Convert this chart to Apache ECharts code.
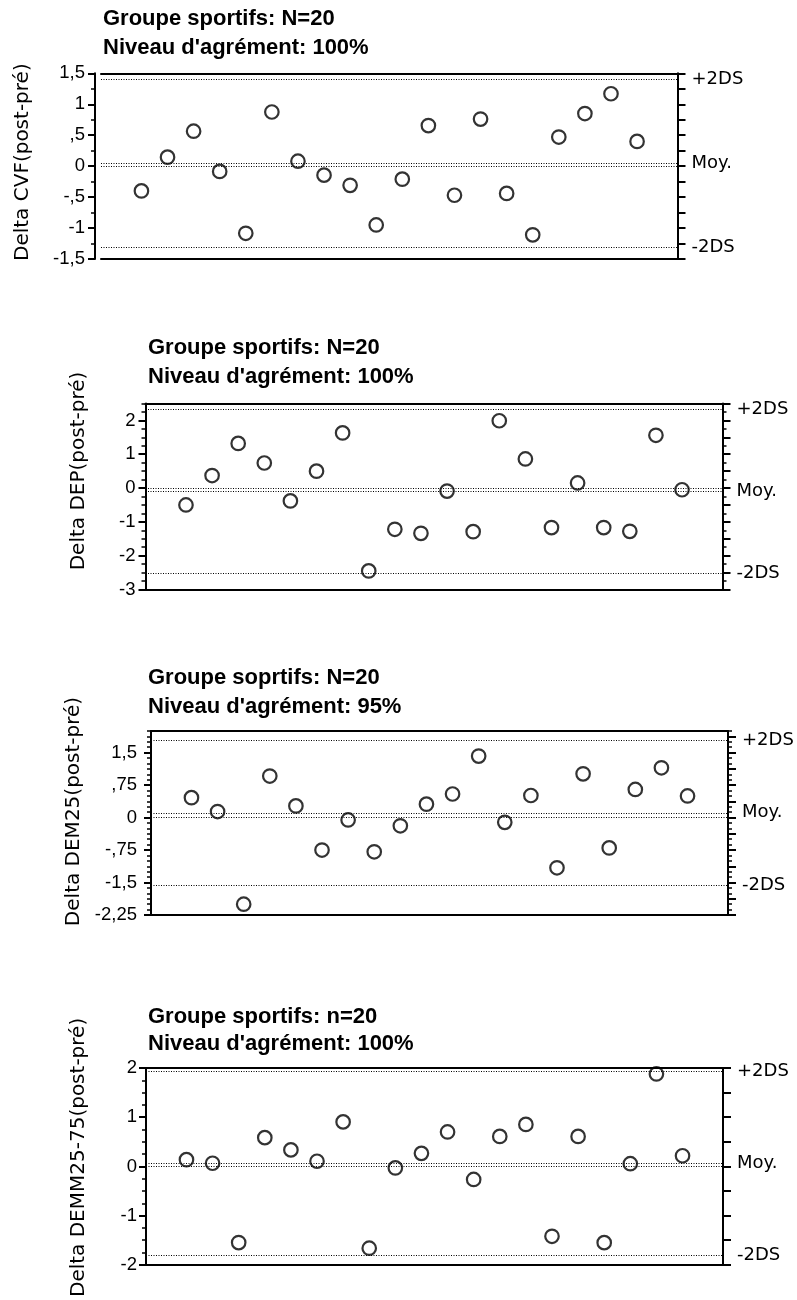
<!DOCTYPE html>
<html><head><meta charset="utf-8">
<script src="https://cdn.jsdelivr.net/npm/echarts@6/dist/echarts.min.js"></script>
<style>html,body{margin:0;padding:0;background:#fff}#c{width:797px;height:1300px}</style>
</head><body><div id="c"></div>
<script>
// ---------- DATA ----------
const subjects = [1,2,3,4,5,6,7,8,9,10,11,12,13,14,15,16,17,18,19,20];
const deltaCVF = [-0.40,0.145,0.565,-0.085,-1.085,0.875,0.08,-0.145,-0.31,-0.95,-0.21,0.655,-0.47,0.76,-0.44,-1.11,0.47,0.85,1.17,0.40];
const deltaDEP = [-0.50,0.37,1.32,0.74,-0.38,0.50,1.63,-2.45,-1.22,-1.34,-0.09,-1.29,1.99,0.86,-1.17,0.15,-1.17,-1.28,1.56,-0.05];
const deltaDEM25 = [0.46,0.14,-2.00,0.96,0.27,-0.75,-0.055,-0.79,-0.19,0.31,0.545,1.42,-0.11,0.51,-1.16,1.01,-0.70,0.65,1.15,0.50];
const deltaDEMM2575 = [0.137,0.064,-1.548,0.585,0.336,0.105,0.905,-1.662,-0.03,0.265,0.70,-0.265,0.61,0.854,-1.42,0.61,-1.549,0.055,1.879,0.217];
// reference lines: +2DS, Moy., -2DS
const limitsCVF = [1.40, 0.045, -1.31];
const limitsDEP = [2.33, -0.105, -2.52];
const limitsDEM25 = [1.79, 0.11, -1.56];
const limitsDEMM2575 = [1.93, 0.06, -1.81];
const limitLabels = ['+2DS', 'Moy.', '-2DS'];
const titleLine1 = ['Groupe sportifs: N=20', 'Groupe sportifs: N=20', 'Groupe soprtifs: N=20', 'Groupe sportifs: n=20'];
const titleLine2 = ["Niveau d'agrément: 100%", "Niveau d'agrément: 100%", "Niveau d'agrément: 95%", "Niveau d'agrément: 100%"];
const yNames = ['Delta CVF(post-pré)', 'Delta DEP(post-pré)', 'Delta DEM25(post-pré)', 'Delta DEMM25-75(post-pré)'];
const ticksCVF = [-1.5, -1, -0.5, 0, 0.5, 1, 1.5];
const ticksDEP = [-3, -2, -1, 0, 1, 2];
const ticksDEM25 = [-2.25, -1.5, -0.75, 0, 0.75, 1.5];
const ticksDEMM2575 = [-2, -1, 0, 1, 2];

// ---------- LAYOUT ----------
const FONT = '"Liberation Sans", Arial, sans-serif';
const WIDE = '"DejaVu Sans", "Liberation Sans", sans-serif';
const panels = [
  {vals: deltaCVF, lim: limitsCVF, ticks: ticksCVF, min: -1.5, max: 1.5,
   grid: {left: 101, top: 73.3, width: 576.5, height: 185.7}, offset: 6, margin: 10,
   nameGap: 62, namePad: 8, title: {left: 103, top: 4, lh: 29.5},
   minorStep: 0.25, rightMajor: 0.25, rightMinor: 0},
  {vals: deltaDEP, lim: limitsDEP, ticks: ticksDEP, min: -3, max: 2.5,
   grid: {left: 145.5, top: 403.5, width: 577, height: 186}, offset: 0, margin: 10,
   nameGap: 57, namePad: 51, title: {left: 148, top: 334, lh: 28.4},
   minorStep: 0.25, rightMajor: 0.5, rightMinor: 0.25},
  {vals: deltaDEM25, lim: limitsDEM25, ticks: ticksDEM25, min: -2.25, max: 2.0,
   grid: {left: 151, top: 731, width: 577, height: 184}, offset: 0, margin: 14,
   nameGap: 62, namePad: 23, title: {left: 148, top: 664, lh: 28.4},
   minorStep: 0.125, rightMajor: 0.375, rightMinor: 0.125},
  {vals: deltaDEMM2575, lim: limitsDEMM2575, ticks: ticksDEMM2575, min: -2, max: 2,
   grid: {left: 146, top: 1068, width: 577, height: 199}, offset: 0, margin: 9,
   nameGap: 57, namePad: 18, title: {left: 148, top: 1003.5, lh: 27},
   minorStep: 0.25, rightMajor: 0.5, rightMinor: 0}
];

function steps(min, max, step) {
  const out = [];
  const n = Math.round((max - min) / step);
  for (let i = 0; i <= n; i++) out.push(+(min + i * step).toFixed(6));
  return out;
}
function frNum(v) {
  if (Math.abs(v) < 1e-9) return '0';
  let s = String(+Math.abs(v).toFixed(4)).replace('.', ',');
  if (s.startsWith('0,')) s = s.slice(1);
  return (v < 0 ? '-' : '') + s;
}

const BLACK = '#000';
const option = {animation: false, backgroundColor: '#fff', title: [], grid: [], xAxis: [], yAxis: [], series: []};

panels.forEach((p, k) => {
  option.grid.push(Object.assign({containLabel: false}, p.grid));
  option.title.push({
    text: titleLine1[k] + '\n' + titleLine2[k], left: p.title.left, top: p.title.top, padding: 0,
    textStyle: {fontFamily: FONT, fontSize: 22, fontWeight: 'bold', color: BLACK, lineHeight: p.title.lh}
  });
  ['bottom', 'top'].forEach(pos => option.xAxis.push({
    gridIndex: k, type: 'value', min: -0.55, max: 21.55, position: pos,
    axisLine: {show: true, onZero: false, lineStyle: {color: BLACK, width: 2}},
    axisTick: {show: false}, axisLabel: {show: false}, splitLine: {show: false}
  }));
  const mainY = option.yAxis.length;
  option.yAxis.push({
    gridIndex: k, type: 'value', min: p.min, max: p.max, position: 'left', offset: p.offset,
    axisLine: {show: true, onZero: false, lineStyle: {color: BLACK, width: 2}},
    axisTick: {show: true, customValues: p.ticks, length: 7, lineStyle: {color: BLACK, width: 2}},
    axisLabel: {show: true, customValues: p.ticks, formatter: frNum, margin: p.margin,
      color: BLACK, fontSize: 18.5, fontFamily: FONT},
    splitLine: {show: false},
    name: yNames[k], nameLocation: 'middle', nameGap: p.nameGap,
    nameTextStyle: {color: BLACK, fontSize: 20, fontFamily: WIDE, padding: [0, 0, 0, p.namePad]}
  });
  option.yAxis.push({
    gridIndex: k, type: 'value', min: p.min, max: p.max, position: 'left', offset: p.offset,
    axisLine: {show: false, onZero: false},
    axisTick: {show: true, customValues: steps(p.min, p.max, p.minorStep), length: 4, lineStyle: {color: BLACK, width: 1.5}},
    axisLabel: {show: false}, splitLine: {show: false}
  });
  option.yAxis.push({
    gridIndex: k, type: 'value', min: p.min, max: p.max, position: 'right',
    axisLine: {show: true, onZero: false, lineStyle: {color: BLACK, width: 2}},
    axisTick: {show: true, customValues: steps(p.min, p.max, p.rightMajor), length: 8, lineStyle: {color: BLACK, width: 2}},
    axisLabel: {show: false}, splitLine: {show: false}
  });
  if (p.rightMinor) {
    option.yAxis.push({
      gridIndex: k, type: 'value', min: p.min, max: p.max, position: 'right',
      axisLine: {show: false, onZero: false},
      axisTick: {show: true, customValues: steps(p.min, p.max, p.rightMinor), length: 4, lineStyle: {color: BLACK, width: 1.5}},
      axisLabel: {show: false}, splitLine: {show: false}
    });
  }
  option.series.push({
    type: 'scatter', xAxisIndex: 2 * k, yAxisIndex: mainY,
    data: subjects.map((s, i) => [s, p.vals[i]]),
    symbol: 'circle', symbolSize: 13.5,
    itemStyle: {color: 'rgba(0,0,0,0)', borderColor: BLACK, borderWidth: 2.2},
    markLine: {
      silent: true, symbol: ['none', 'none'], animation: false,
      lineStyle: {type: [1, 1.5], color: BLACK, width: 1},
      label: {show: true, position: 'end', formatter: '{b}', distance: 14, color: BLACK,
        fontSize: 18, fontFamily: WIDE, padding: [6, 0, 0, 0]},
      emphasis: {disabled: true},
      data: [
        {yAxis: p.lim[0], name: limitLabels[0]},
        {yAxis: p.lim[1], name: limitLabels[1]},
        {yAxis: p.lim[2], name: limitLabels[2]},
        {yAxis: 0, name: '', label: {show: false}}
      ]
    }
  });
});

const chart = echarts.init(document.getElementById('c'), null, {renderer: 'canvas'});
chart.setOption(option);
</script>
</body></html>
